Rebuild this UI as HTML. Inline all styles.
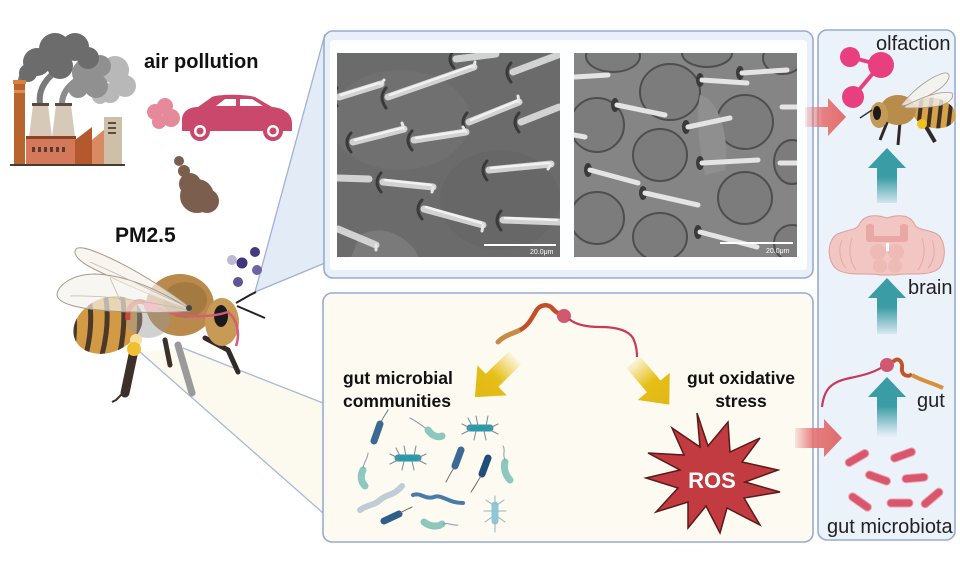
<!DOCTYPE html>
<html><head><meta charset="utf-8">
<style>
html,body{margin:0;padding:0;background:#fff;}
svg{display:block;}
text{font-family:"Liberation Sans",Arial,sans-serif;}
</style></head>
<body>
<svg width="960" height="562" viewBox="0 0 960 562" xmlns="http://www.w3.org/2000/svg">
<defs>
  <linearGradient id="gPink" gradientUnits="userSpaceOnUse" x1="0" y1="0" x2="40" y2="0">
    <stop offset="0" stop-color="#e57373" stop-opacity="0.15"/>
    <stop offset="0.45" stop-color="#e57373" stop-opacity="0.9"/>
    <stop offset="1" stop-color="#e26f6f"/>
  </linearGradient>
  <linearGradient id="gTeal" gradientUnits="userSpaceOnUse" x1="0" y1="0" x2="0" y2="58">
    <stop offset="0" stop-color="#3a9ca4"/>
    <stop offset="0.5" stop-color="#3a9ca4"/>
    <stop offset="1" stop-color="#3a9ca4" stop-opacity="0.05"/>
  </linearGradient>
  <linearGradient id="gYel" gradientUnits="userSpaceOnUse" x1="0" y1="0" x2="54" y2="0">
    <stop offset="0" stop-color="#e8c21a" stop-opacity="0.1"/>
    <stop offset="0.5" stop-color="#e6be18"/>
    <stop offset="1" stop-color="#e2b814"/>
  </linearGradient>
  <clipPath id="clipL"><rect x="337" y="53" width="223" height="204"/></clipPath>
  <clipPath id="clipR"><rect x="574" y="53" width="223" height="204"/></clipPath>
  <clipPath id="abd"><ellipse cx="108" cy="325" rx="36" ry="27" transform="rotate(-25 108 325)"/></clipPath>
  <clipPath id="abd2"><ellipse cx="934" cy="113" rx="22" ry="15" transform="rotate(12 934 113)"/></clipPath>
</defs>

<!-- connector triangles -->
<polygon points="255,292 325,34 325,263" fill="#e3ebf7"/>
<line x1="255" y1="292" x2="325" y2="34" stroke="#9fb2d3" stroke-width="1.3"/>
<line x1="255" y1="292" x2="325" y2="263" stroke="#9fb2d3" stroke-width="1.3"/>
<polygon points="183,348 140,352 323,513 323,403" fill="#fcf9ef"/>
<line x1="183" y1="348" x2="323" y2="403" stroke="#a9b8d6" stroke-width="1.3"/>
<line x1="140" y1="352" x2="323" y2="513" stroke="#a9b8d6" stroke-width="1.3"/>

<!-- panels -->
<rect x="324" y="31" width="489" height="247" rx="9" fill="#eaf0f9" stroke="#97acd0" stroke-width="1.6"/>
<rect x="330" y="40" width="477" height="230" rx="4" fill="#fdfeff"/>
<rect x="323" y="293" width="490" height="249" rx="9" fill="#fdfaf1" stroke="#97acd0" stroke-width="1.6"/>
<rect x="818" y="30" width="137" height="510" rx="9" fill="#ecf2fa" stroke="#97acd0" stroke-width="1.6"/>

<!-- left SEM -->
<g clip-path="url(#clipL)">
  <rect x="337" y="53" width="223" height="204" fill="#6b6b6b"/>
  <ellipse cx="400" cy="120" rx="70" ry="50" fill="#707070"/>
  <ellipse cx="500" cy="200" rx="60" ry="50" fill="#676767"/>
  <path d="M360 235 C380 225 400 232 415 250 L420 260 L350 260 Z" fill="#7a7a7a"/>
  <g stroke="#3a3a3a" stroke-width="3" fill="none" stroke-linecap="round">
    <path d="M337 88 Q330 97 337 106"/><path d="M386 88 Q378 97 386 108"/>
    <path d="M454 50 Q446 59 454 68"/><path d="M511 63 Q503 72 511 82"/>
    <path d="M467 113 Q459 122 467 132"/><path d="M519 113 Q511 122 519 132"/>
    <path d="M351 133 Q343 142 351 152"/><path d="M412 131 Q404 140 412 150"/>
    <path d="M487 161 Q479 170 487 180"/><path d="M381 173 Q373 182 381 192"/>
    <path d="M422 200 Q414 209 422 219"/><path d="M501 211 Q493 220 501 230"/>
  </g>
  <g stroke="#d2d2d2" stroke-width="7" stroke-linecap="round">
    <line x1="339" y1="97" x2="381" y2="84"/><line x1="388" y1="97" x2="474" y2="67"/>
    <line x1="456" y1="59" x2="496" y2="54"/><line x1="513" y1="72" x2="558" y2="55"/>
    <line x1="469" y1="122" x2="519" y2="102"/><line x1="521" y1="122" x2="559" y2="107"/>
    <line x1="353" y1="142" x2="404" y2="129"/><line x1="414" y1="140" x2="466" y2="132"/>
    <line x1="489" y1="170" x2="551" y2="164"/><line x1="338" y1="178" x2="369" y2="179"/>
    <line x1="383" y1="182" x2="433" y2="187"/><line x1="424" y1="209" x2="483" y2="225"/>
    <line x1="503" y1="220" x2="559" y2="222"/><line x1="338" y1="229" x2="376" y2="245"/>
  </g>
  <g stroke="#e6e6e6" stroke-width="3" fill="none" stroke-linecap="round">
    <path d="M381 84 L384 80"/><path d="M474 67 L475 62"/><path d="M519 102 L518 96"/>
    <path d="M404 129 L402 123"/><path d="M466 132 L463 127"/><path d="M433 187 L432 192"/>
    <path d="M483 225 L482 231"/><path d="M376 245 L376 250"/><path d="M551 164 L548 169"/>
  </g>
  <g stroke="#f2f2f2" stroke-width="2.5" stroke-linecap="round">
    <line x1="341" y1="95" x2="379" y2="83"/><line x1="390" y1="95" x2="472" y2="66"/>
    <line x1="471" y1="120" x2="517" y2="101"/><line x1="355" y1="140" x2="402" y2="128"/>
    <line x1="416" y1="138" x2="464" y2="131"/><line x1="491" y1="168" x2="549" y2="163"/>
    <line x1="385" y1="180" x2="431" y2="185"/><line x1="426" y1="207" x2="481" y2="223"/>
    <line x1="505" y1="218" x2="557" y2="220"/>
  </g>
  <line x1="484" y1="245" x2="556" y2="245" stroke="#fff" stroke-width="2"/>
  <text x="530" y="254" font-size="7" fill="#fff">20.0μm</text>
</g>

<!-- right SEM -->
<g clip-path="url(#clipR)">
  <rect x="574" y="53" width="223" height="204" fill="#858585"/>
  <g fill="#7c7c7c" stroke="#4e4e4e" stroke-width="2">
    <ellipse cx="670" cy="92" rx="30" ry="28"/><ellipse cx="745" cy="122" rx="28" ry="27"/>
    <ellipse cx="597" cy="125" rx="27" ry="27"/><ellipse cx="660" cy="155" rx="27" ry="26"/>
    <ellipse cx="745" cy="198" rx="27" ry="26"/><ellipse cx="597" cy="218" rx="27" ry="26"/>
    <ellipse cx="660" cy="237" rx="27" ry="24"/><ellipse cx="613" cy="56" rx="27" ry="16"/>
    <ellipse cx="707" cy="53" rx="25" ry="14"/><ellipse cx="783" cy="58" rx="20" ry="16"/>
    <ellipse cx="792" cy="162" rx="18" ry="22"/><ellipse cx="792" cy="243" rx="18" ry="18"/>
  </g>
  <path d="M700 95 C720 100 730 140 725 170 L705 175 C700 150 695 120 700 95 Z" fill="#8f8f8f"/>
  <g fill="#3a3a3a">
    <ellipse cx="615" cy="105" rx="4" ry="7"/><ellipse cx="700" cy="80" rx="4" ry="7"/>
    <ellipse cx="686" cy="127" rx="4" ry="7"/><ellipse cx="700" cy="163" rx="4" ry="7"/>
    <ellipse cx="588" cy="170" rx="4" ry="7"/><ellipse cx="643" cy="193" rx="4" ry="7"/>
    <ellipse cx="698" cy="232" rx="4" ry="7"/><ellipse cx="740" cy="73" rx="4" ry="7"/>
  </g>
  <g stroke="#e4e4e4" stroke-width="5" stroke-linecap="round">
    <line x1="575" y1="77" x2="608" y2="75"/><line x1="617" y1="105" x2="665" y2="115"/>
    <line x1="702" y1="80" x2="747" y2="83"/><line x1="742" y1="73" x2="787" y2="70"/>
    <line x1="688" y1="127" x2="730" y2="118"/><line x1="574" y1="135" x2="585" y2="137"/>
    <line x1="702" y1="163" x2="758" y2="160"/><line x1="590" y1="170" x2="638" y2="183"/>
    <line x1="645" y1="193" x2="698" y2="205"/><line x1="700" y1="232" x2="757" y2="247"/>
    <line x1="782" y1="107" x2="797" y2="107"/><line x1="780" y1="163" x2="797" y2="163"/>
  </g>
  <line x1="720" y1="243" x2="793" y2="243" stroke="#fff" stroke-width="2"/>
  <text x="766" y="253" font-size="7" fill="#fff">20.0μm</text>
</g>

<!-- factory & clouds -->
<g>
  <path d="M20 82 C22 70 30 62 40 58" stroke="#777" stroke-width="5" fill="none"/>
  <path d="M40 104 C38 90 45 80 55 72" stroke="#7a7a7a" stroke-width="6" fill="none"/>
  <path d="M62 104 C62 92 70 84 80 78" stroke="#8c8c8c" stroke-width="6" fill="none"/>
  <g fill="#b8b8b8"><circle cx="115" cy="70" r="14"/><circle cx="125" cy="86" r="11"/><circle cx="110" cy="93" r="10"/><circle cx="100" cy="96" r="8"/></g>
  <g fill="#909090"><circle cx="86" cy="73" r="14"/><circle cx="100" cy="66" r="11"/><circle cx="78" cy="88" r="10"/><circle cx="96" cy="86" r="12"/></g>
  <g fill="#6c6c6c"><circle cx="37" cy="62" r="14"/><circle cx="55" cy="49" r="16"/><circle cx="75" cy="47" r="14"/><circle cx="88" cy="58" r="11"/><circle cx="60" cy="66" r="13"/><circle cx="28" cy="73" r="9"/></g>
  <rect x="14" y="80" width="11" height="85" fill="#b8642e"/>
  <rect x="13" y="80" width="13" height="4" fill="#d9803a"/>
  <rect x="14" y="90" width="11" height="3" fill="#e0904a"/>
  <path d="M29 137 L33 105 L48 105 L52 137 Z" fill="#d6c9b7"/>
  <path d="M52 137 L56 105 L71 105 L75 137 Z" fill="#d6c9b7"/>
  <rect x="32" y="103" width="17" height="3" fill="#5a4a40"/>
  <rect x="55" y="103" width="17" height="3" fill="#5a4a40"/>
  <rect x="26" y="137" width="50" height="28" fill="#d4785a"/>
  <rect x="26" y="136" width="50" height="3" fill="#8a4428"/>
  <g fill="#5a3a30"><rect x="32" y="147" width="3" height="5"/><rect x="38" y="147" width="3" height="5"/><rect x="44" y="147" width="3" height="5"/><rect x="50" y="147" width="3" height="5"/><rect x="56" y="147" width="3" height="5"/><rect x="62" y="147" width="3" height="5"/></g>
  <path d="M75 165 L75 140 L92 127 L92 140 L104 130 L104 165 Z" fill="#b4582e"/>
  <path d="M92 140 L104 130 L104 165 L92 165 Z" fill="#d88a60"/>
  <rect x="104" y="117" width="18" height="48" fill="#cdbfa8"/>
  <g fill="#5a4a40"><rect x="108" y="122" width="8" height="2"/><rect x="108" y="127" width="8" height="2"/><rect x="108" y="132" width="8" height="2"/></g>
  <line x1="10" y1="165" x2="125" y2="165" stroke="#4a3a30" stroke-width="2"/>
</g>

<!-- car -->
<g fill="#e6899a"><circle cx="155" cy="112" r="8"/><circle cx="165" cy="106" r="8"/><circle cx="171" cy="118" r="9"/><circle cx="159" cy="122" r="7"/></g>
<path d="M182 120 C182 111 190 107 198 107 L212 97 C218 94 245 94 255 97 L272 107 C285 108 292 115 292 123 L292 131 L182 131 Z" fill="#c9486b"/>
<path d="M216 106 L225 99 L236 99 L236 106 Z" fill="#fff"/>
<path d="M240 99 L252 99 L263 106 L240 106 Z" fill="#fff"/>
<g><circle cx="200" cy="131" r="10" fill="#c9486b"/><circle cx="200" cy="131" r="6" fill="#fff"/><circle cx="200" cy="131" r="3.5" fill="#c9486b"/>
<circle cx="273" cy="131" r="10" fill="#c9486b"/><circle cx="273" cy="131" r="6" fill="#fff"/><circle cx="273" cy="131" r="3.5" fill="#c9486b"/></g>
<g fill="#7c5e4f"><circle cx="179" cy="161" r="5"/><circle cx="184" cy="171" r="6"/><circle cx="190" cy="184" r="11"/><circle cx="197" cy="196" r="17"/><circle cx="207" cy="201" r="12"/></g>

<text x="144" y="68" font-size="20" font-weight="bold" fill="#111">air pollution</text>
<text x="115" y="242" font-size="21" font-weight="bold" fill="#111">PM2.5</text>

<!-- PM dots -->
<circle cx="232" cy="260" r="5" fill="#bdb9d4"/>
<circle cx="255" cy="252" r="5" fill="#443a7e"/>
<circle cx="242" cy="263" r="5.5" fill="#3f3578"/>
<circle cx="257" cy="270" r="5" fill="#6e64a2"/>
<circle cx="238" cy="282" r="5" fill="#5e5498"/>

<!-- left bee -->
<g>
  <line x1="133" y1="355" x2="125" y2="393" stroke="#3c3028" stroke-width="9" stroke-linecap="round"/>
  <path d="M124 392 L116 400 L112 402" stroke="#3c3028" stroke-width="2" fill="none"/>
  <line x1="178" y1="345" x2="192" y2="393" stroke="#9a9a9a" stroke-width="7" stroke-linecap="round"/>
  <path d="M205 338 L228 350 L238 372" stroke="#332b25" stroke-width="5" fill="none" stroke-linecap="round"/>
  <path d="M165 340 L170 365" stroke="#3c3028" stroke-width="5" stroke-linecap="round"/>
  <ellipse cx="108" cy="325" rx="36" ry="27" transform="rotate(-25 108 325)" fill="#d39a45"/>
  <g clip-path="url(#abd)" stroke="#4a3828" stroke-width="5" fill="none">
    <path d="M72 300 Q78 330 70 360"/><path d="M88 292 Q95 325 84 362"/><path d="M104 288 Q112 322 100 362"/><path d="M121 288 Q128 320 118 362"/><path d="M138 294 Q142 320 136 360"/>
  </g>
  <ellipse cx="180" cy="305" rx="34" ry="31" fill="#b98a4c"/>
  <ellipse cx="185" cy="300" rx="22" ry="18" fill="#a47a40"/>
  <ellipse cx="222" cy="322" rx="17" ry="24" fill="#c79a55"/>
  <ellipse cx="221" cy="316" rx="7" ry="11" fill="#1a1a1a"/>
  <ellipse cx="148" cy="320" rx="22" ry="18" fill="#9a9a9a" opacity="0.45"/>
  <path d="M128 320 C126 303 140 297 148 305" stroke="#d04a3a" stroke-width="5" fill="none"/>
  <circle cx="151" cy="306" r="7" fill="#e06a8a"/>
  <path d="M157 308 C180 318 210 318 228 312 C238 320 240 335 236 346" stroke="#d85a7a" stroke-width="2.5" fill="none"/>
  <circle cx="136" cy="340" r="6" fill="#f5e0a0"/>
  <circle cx="134" cy="349" r="7" fill="#f0c030"/>
  <path d="M188 306 C170 292 140 272 110 258 C95 251 80 245 76 249 C72 254 80 262 92 268 C120 282 155 298 188 308 Z" fill="#f5f1ec" fill-opacity="0.72" stroke="#a89a8a" stroke-width="1"/>
  <path d="M190 309 C165 294 130 275 95 274 C72 274 57 286 57 295 C58 304 80 309 110 311 C140 313 172 313 190 311 Z" fill="#f5f1ec" fill-opacity="0.68" stroke="#a89a8a" stroke-width="1"/>
  <g stroke="#c4b8aa" stroke-width="0.8" fill="none"><path d="M90 262 C120 275 150 290 185 306"/><path d="M70 296 C110 295 150 302 188 310"/><path d="M110 278 L120 300"/></g>
  <circle cx="189" cy="308" r="3" fill="#444"/>
  <path d="M236 303 L250 295 L256 292" stroke="#222" stroke-width="2" fill="none"/>
  <path d="M237 306 L265 318" stroke="#222" stroke-width="2" fill="none"/>
</g>

<!-- right panel: molecule -->
<g stroke="#e8407f" stroke-width="4"><line x1="850" y1="57" x2="880" y2="65"/><line x1="880" y1="65" x2="853" y2="97"/></g>
<g fill="#e8407f"><circle cx="850" cy="57" r="10"/><circle cx="881" cy="65" r="13"/><circle cx="853" cy="97" r="11"/></g>
<text x="876" y="50" font-size="20" fill="#222">olfaction</text>

<!-- small bee -->
<g>
  <path d="M888 120 L880 140" stroke="#2f2a26" stroke-width="3"/>
  <path d="M900 122 L898 145" stroke="#2f2a26" stroke-width="3"/>
  <path d="M925 125 L935 142" stroke="#2f2a26" stroke-width="4"/>
  <ellipse cx="934" cy="113" rx="22" ry="15" transform="rotate(12 934 113)" fill="#d6a24a"/>
  <g clip-path="url(#abd2)" stroke="#3e2f22" stroke-width="4"><line x1="922" y1="95" x2="918" y2="130"/><line x1="932" y1="95" x2="928" y2="130"/><line x1="942" y1="95" x2="938" y2="130"/><line x1="952" y1="95" x2="948" y2="130"/></g>
  <ellipse cx="898" cy="110" rx="18" ry="15" fill="#b88c4a"/>
  <ellipse cx="879" cy="115" rx="9" ry="13" fill="#c49a58"/>
  <ellipse cx="877" cy="113" rx="4" ry="7" fill="#1a1a1a"/>
  <circle cx="922" cy="124" r="5" fill="#f0c020"/>
  <path d="M902 104 C915 88 932 76 944 73 C952 72 950 80 942 87 C930 96 915 103 902 106 Z" fill="#f4f1ec" fill-opacity="0.8" stroke="#a89a8a" stroke-width="0.8"/>
  <path d="M905 106 C920 98 940 90 952 93 C955 98 948 104 938 106 C925 108 915 108 905 108 Z" fill="#f4f1ec" fill-opacity="0.8" stroke="#a89a8a" stroke-width="0.8"/>
  <path d="M872 110 L860 118" stroke="#333" stroke-width="1.5"/>
</g>

<!-- pink arrows -->
<path transform="translate(805,117)" d="M0,-10 L23,-10 L23,-19 L41,0 L23,19 L23,10 L0,10 Z" fill="url(#gPink)"/>
<path transform="translate(795,438)" d="M0,-10 L29,-10 L29,-19 L47,0 L29,19 L29,10 L0,10 Z" fill="url(#gPink)"/>

<!-- teal arrows -->
<path transform="translate(887,148)" d="M0,0 L19,20 L10,20 L10,55 L-10,55 L-10,20 L-19,20 Z" fill="url(#gTeal)"/>
<path transform="translate(887,278)" d="M0,0 L19,20 L10,20 L10,56 L-10,56 L-10,20 L-19,20 Z" fill="url(#gTeal)"/>

<!-- brain -->
<path d="M840 233 C827 236 825 262 838 270 C850 277 870 272 880 275 L895 275 C905 272 925 277 937 270 C948 262 946 237 935 233 C925 229 918 230 915 225 C910 213 895 215 887 218 C879 215 864 213 859 225 C856 230 850 229 840 233 Z" fill="#f2c6c2" stroke="#dc9e9c" stroke-width="1"/>
<g fill="#e9a7a6"><rect x="866" y="224" width="8" height="18" rx="3"/><rect x="900" y="224" width="8" height="18" rx="3"/><rect x="872" y="236" width="30" height="6" rx="2"/></g>
<g fill="#eebab6"><circle cx="878" cy="252" r="8"/><circle cx="896" cy="252" r="8"/><circle cx="880" cy="266" r="7"/><circle cx="895" cy="266" r="7"/></g>
<g stroke="#e4aaa8" fill="none"><path d="M842 240 C838 250 840 262 846 268"/><path d="M932 240 C936 250 934 262 928 268"/><path d="M852 238 C848 250 850 262 856 270"/><path d="M922 238 C926 250 924 262 918 270"/></g>
<rect x="886" y="243" width="3" height="8" fill="#fff"/>
<text x="908" y="294" font-size="20" fill="#222">brain</text>

<!-- gut right -->
<path d="M822 407 C824 390 830 382 850 378 C865 375 875 372 884 366" stroke="#c8395a" stroke-width="2.2" fill="none"/>
<circle cx="887" cy="365" r="7" fill="#d25872"/>
<path d="M893 362 C898 356 903 362 902 368 C901 375 908 378 912 374" stroke="#c0552a" stroke-width="4" fill="none"/>
<path d="M912 375 C920 380 930 382 943 388" stroke="#d89038" stroke-width="4" fill="none"/>
<path transform="translate(887,377)" d="M0,0 L19,20 L10,20 L10,60 L-10,60 L-10,20 L-19,20 Z" fill="url(#gTeal)"/>
<text x="917" y="407" font-size="20" fill="#222">gut</text>

<!-- microbiota -->
<g fill="#d8576d" stroke="#f0a0b0" stroke-width="1">
  <rect x="-13" y="-4" width="26" height="8" rx="4" transform="translate(857,458) rotate(-30)"/>
  <rect x="-13" y="-4" width="26" height="8" rx="4" transform="translate(903,455) rotate(-20)"/>
  <rect x="-13" y="-4" width="26" height="8" rx="4" transform="translate(878,478) rotate(20)"/>
  <rect x="-13" y="-4" width="26" height="8" rx="4" transform="translate(915,478) rotate(-5)"/>
  <rect x="-13" y="-4" width="26" height="8" rx="4" transform="translate(860,502) rotate(35)"/>
  <rect x="-13" y="-4" width="26" height="8" rx="4" transform="translate(900,503) rotate(0)"/>
  <rect x="-13" y="-4" width="26" height="8" rx="4" transform="translate(932,498) rotate(-40)"/>
</g>
<text x="827" y="533" font-size="20" fill="#222">gut microbiota</text>

<!-- bottom panel gut -->
<path d="M498 342 C505 335 512 334 520 330" stroke="#c98a45" stroke-width="5" fill="none" stroke-linecap="round"/>
<path d="M520 330 C528 326 532 318 536 311 C540 304 548 304 552 308 C555 312 558 313 560 314" stroke="#c0502a" stroke-width="4.5" fill="none"/>
<circle cx="564" cy="316" r="7" fill="#d25872"/>
<path d="M569 319 C575 324 585 327 600 327 C615 327 628 330 633 338 C636 344 637 350 637 357" stroke="#c8395a" stroke-width="2.2" fill="none"/>

<!-- yellow arrows -->
<path transform="translate(515,358) rotate(135.7)" d="M0,-9 L32,-9 L32,-21 L56,0 L32,21 L32,9 L0,9 Z" fill="url(#gYel)"/>
<path transform="translate(633,362) rotate(49.6)" d="M0,-9 L32,-9 L32,-21 L56,0 L32,21 L32,9 L0,9 Z" fill="url(#gYel)"/>

<text x="343" y="384" font-size="17.5" font-weight="bold" fill="#111">gut microbial</text>
<text x="343" y="407" font-size="17.5" font-weight="bold" fill="#111">communities</text>
<text x="741" y="384" font-size="17.5" font-weight="bold" fill="#111" text-anchor="middle">gut oxidative</text>
<text x="741" y="407" font-size="17.5" font-weight="bold" fill="#111" text-anchor="middle">stress</text>

<!-- ROS star -->
<polygon points="697,413 708,446 728,422 730,452 760,438 742,462 778,470 745,482 780,492 744,498 760,525 727,508 720,533 706,506 688,528 688,502 656,512 678,488 646,478 680,470 648,453 684,455 672,428 700,447" fill="#c23b40" stroke="#5a1a1a" stroke-width="1.5" stroke-linejoin="miter"/>
<text x="712" y="488" font-size="22" font-weight="bold" fill="#fff" text-anchor="middle">ROS</text>

<!-- bacteria -->
<g stroke-linecap="round" fill="none">
  <path d="M380 425 C382 418 386 414 388 410" stroke="#6a7a8a" stroke-width="1"/>
  <line x1="380" y1="424" x2="374" y2="441" stroke="#3a6a94" stroke-width="7"/>
  <path d="M428 430 C420 424 414 420 410 418" stroke="#8a9aa8" stroke-width="1"/>
  <path d="M428 430 C432 436 438 438 442 436" stroke="#8cc8bc" stroke-width="7"/>
  <line x1="470" y1="428" x2="490" y2="428" stroke="#2a9aaa" stroke-width="7"/>
  <path d="M470 428 L462 424 M472 426 L468 418 M478 426 L476 416 M486 426 L488 416 M490 428 L498 424 M490 430 L498 434 M484 431 L486 440 M476 431 L474 440 M470 430 L462 434" stroke="#7a8a98" stroke-width="1"/>
  <line x1="398" y1="458" x2="418" y2="458" stroke="#2a9aaa" stroke-width="7"/>
  <path d="M398 458 L390 454 M400 456 L396 448 M406 456 L404 446 M414 456 L416 446 M418 458 L426 454 M418 460 L426 464 M412 461 L414 470 M404 461 L402 470 M398 460 L390 464" stroke="#7a8a98" stroke-width="1"/>
  <line x1="461" y1="450" x2="455" y2="466" stroke="#3a6a94" stroke-width="7"/>
  <path d="M454 468 C450 474 448 478 446 482" stroke="#7a6a6a" stroke-width="1"/>
  <line x1="488" y1="458" x2="482" y2="474" stroke="#1f4e78" stroke-width="7"/>
  <path d="M481 476 C477 482 474 488 471 492" stroke="#7a6a6a" stroke-width="1"/>
  <path d="M505 462 C503 468 506 476 510 480" stroke="#8cc8bc" stroke-width="7"/>
  <path d="M505 460 C502 454 506 450 503 446" stroke="#8a9aa8" stroke-width="1"/>
  <path d="M363 470 C360 476 361 482 365 486" stroke="#8cc8bc" stroke-width="7"/>
  <path d="M363 468 C364 462 368 458 368 453" stroke="#8a9aa8" stroke-width="1"/>
  <path d="M360 510 C368 504 374 506 380 500 C386 494 394 496 402 486" stroke="#c0ccd6" stroke-width="6"/>
  <path d="M413 495 C420 492 426 500 434 497 C442 494 448 503 463 503" stroke="#4a7aaa" stroke-width="4"/>
  <line x1="384" y1="521" x2="399" y2="514" stroke="#2e5f8a" stroke-width="7"/>
  <path d="M400 513 C405 510 408 509 412 507" stroke="#7a6a6a" stroke-width="1"/>
  <path d="M424 522 C430 527 438 527 442 524" stroke="#8cc8bc" stroke-width="7"/>
  <path d="M443 524 C448 522 452 526 458 525" stroke="#8a9aa8" stroke-width="1"/>
  <line x1="495" y1="505" x2="495" y2="521" stroke="#8cc8d8" stroke-width="7"/>
  <path d="M493 505 L486 500 M497 505 L504 500 M492 511 L484 511 M498 511 L506 511 M492 517 L485 522 M498 517 L505 522 M495 522 L495 532 M495 504 L495 496" stroke="#9ab0be" stroke-width="1"/>
</g>
</svg>
</body></html>
